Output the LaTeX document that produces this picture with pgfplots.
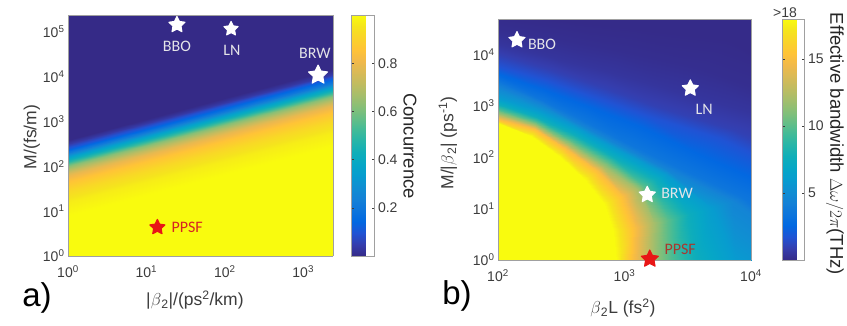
\documentclass[border=0pt]{standalone}
\usepackage{fontspec}
\setmainfont{Liberation Sans}
\newfontfamily\calibri{Carlito}
\usepackage{pgfplots}
\usepackage{pgfplotstable}
\pgfplotsset{compat=1.18}

\definecolor{lbl}{RGB}{228,228,232}
\definecolor{ppsfA}{RGB}{215,35,35}
\definecolor{ppsfB}{RGB}{170,55,45}
\definecolor{starred}{RGB}{232,22,22}
\definecolor{tickc}{RGB}{60,60,60}
\definecolor{framec}{RGB}{160,160,160}

\pgfplotsset{
  colormap={parula}{
    rgb255=(53,42,135) rgb255=(53,61,173) rgb255=(32,83,212) rgb255=(2,104,225)
    rgb255=(13,117,220) rgb255=(20,129,214) rgb255=(16,142,210) rgb255=(7,156,207)
    rgb255=(6,167,198) rgb255=(15,174,185) rgb255=(37,181,169) rgb255=(66,187,152)
    rgb255=(101,190,134) rgb255=(135,191,119) rgb255=(165,190,107) rgb255=(192,188,96)
    rgb255=(217,186,86) rgb255=(241,185,74) rgb255=(255,195,55) rgb255=(250,211,42)
    rgb255=(245,228,29) rgb255=(249,251,14)}
}

\pgfdeclareplotmark{fstar}{%
  \pgfpathmoveto{\pgfpointpolar{90}{\pgfplotmarksize}}%
  \pgfpathlineto{\pgfpointpolar{126}{0.5\pgfplotmarksize}}%
  \pgfpathlineto{\pgfpointpolar{162}{\pgfplotmarksize}}%
  \pgfpathlineto{\pgfpointpolar{198}{0.5\pgfplotmarksize}}%
  \pgfpathlineto{\pgfpointpolar{234}{\pgfplotmarksize}}%
  \pgfpathlineto{\pgfpointpolar{270}{0.5\pgfplotmarksize}}%
  \pgfpathlineto{\pgfpointpolar{306}{\pgfplotmarksize}}%
  \pgfpathlineto{\pgfpointpolar{342}{0.5\pgfplotmarksize}}%
  \pgfpathlineto{\pgfpointpolar{18}{\pgfplotmarksize}}%
  \pgfpathlineto{\pgfpointpolar{54}{0.5\pgfplotmarksize}}%
  \pgfpathclose
  \pgfusepathqfillstroke
}

\newcommand\tickfont{\fontsize{14}{16}\selectfont}
\newcommand\labfont{\fontsize{17.5}{19}\selectfont}
\newcommand\cbfont{\fontsize{18.5}{20}\selectfont}
\newcommand\starfont{\calibri\fontsize{16}{18}\selectfont}

% Panel a: concurrence; mesh rows follow lines of equal concurrence
% a: log10|beta2| ; b: log10 M ; c: concurrence
\pgfplotstableread{
a b z c
-0.05 -2.023 0 1.00
3.45 -0.413 0 1.00
-0.05 0.877 0 1.00
3.45 2.487 0 1.00
-0.05 1.177 0 0.97
3.45 2.787 0 0.97
-0.05 1.427 0 0.92
3.45 3.037 0 0.92
-0.05 1.627 0 0.86
3.45 3.237 0 0.86
-0.05 1.777 0 0.79
3.45 3.387 0 0.79
-0.05 1.877 0 0.72
3.45 3.487 0 0.72
-0.05 1.977 0 0.62
3.45 3.587 0 0.62
-0.05 2.077 0 0.49
3.45 3.687 0 0.49
-0.05 2.177 0 0.35
3.45 3.787 0 0.35
-0.05 2.277 0 0.22
3.45 3.887 0 0.22
-0.05 2.377 0 0.12
3.45 3.987 0 0.12
-0.05 2.477 0 0.04
3.45 4.087 0 0.04
-0.05 2.577 0 0.00
3.45 4.187 0 0.00
-0.05 5.977 0 0.00
3.45 7.587 0 0.00
}\tabA

% Panel b: effective bandwidth; mesh rows are lines of equal bandwidth
% a: log10(beta2 L), b: log10(M/|beta2|), c: bandwidth (THz)
\pgfplotstableread{
a b z c
1.95 -0.1 0 18
1.95 -0.1 0 18
1.95 -0.1 0 18
1.95 -0.1 0 18
1.95 -0.1 0 18
1.95 -0.1 0 18
1.95 -0.1 0 18
1.98 2.68 0 18
2.264 2.42 0 18
2.48 2.02 0 18
2.68 1.58 0 18
2.84 1.086 0 18
2.91 0.555 0 18
2.93 -0.03 0 18
1.98 2.76 0 15
2.29 2.54 0 15
2.528 2.17 0 15
2.79 1.734 0 15
2.99 1.236 0 15
3.08 0.63 0 15
3.07 -0.03 0 15
1.98 2.86 0 12
2.296 2.63 0 12
2.55 2.26 0 12
2.83 1.833 0 12
3.10 1.372 0 12
3.23 0.719 0 12
3.22 -0.03 0 12
1.98 2.93 0 10
2.30 2.69 0 10
2.568 2.34 0 10
2.87 1.913 0 10
3.15 1.438 0 10
3.34 0.785 0 10
3.35 -0.03 0 10
1.98 3.05 0 7.5
2.312 2.79 0 7.5
2.598 2.46 0 7.5
2.91 2.03 0 7.5
3.25 1.57 0 7.5
3.51 0.898 0 7.5
3.57 -0.03 0 7.5
1.98 3.17 0 6
2.324 2.89 0 6
2.624 2.57 0 6
2.95 2.134 0 6
3.32 1.683 0 6
3.69 1.02 0 6
3.87 -0.03 0 6
1.98 3.38 0 4.5
2.338 3.03 0 4.5
2.642 2.65 0 4.5
2.97 2.209 0 4.5
3.34 1.744 0 4.5
3.86 1.147 0 4.5
4.52 -0.03 0 4.5
1.98 3.50 0 3.5
2.346 3.12 0 3.5
2.66 2.74 0 3.5
3.0 2.298 0 3.5
3.40 1.833 0 3.5
3.932 1.217 0 3.5
4.8 -0.03 0 3.5
1.98 3.65 0 2.5
2.37 3.33 0 2.5
2.726 3.0 0 2.5
3.12 2.632 0 2.5
3.562 2.12 0 2.5
4.23 1.405 0 2.5
5.0 -0.03 0 2.5
1.98 3.80 0 1.7
2.39 3.50 0 1.7
2.768 3.18 0 1.7
3.196 2.811 0 1.7
3.752 2.378 0 1.7
4.478 1.56 0 1.7
5.2 -0.03 0 1.7
1.98 4.0 0 1.0
2.414 3.70 0 1.0
2.814 3.37 0 1.0
3.264 2.97 0 1.0
3.864 2.529 0 1.0
4.73 1.72 0 1.0
5.6 -0.03 0 1.0
1.98 4.22 0 0.5
2.442 3.94 0 0.5
2.884 3.65 0 0.5
3.396 3.281 0 0.5
4.08 2.82 0 0.5
4.994 1.885 0 0.5
6.0 -0.03 0 0.5
1.98 4.50 0 0.2
2.484 4.28 0 0.2
2.984 4.04 0 0.2
3.578 3.708 0 0.2
4.292 3.107 0 0.2
5.132 1.974 0 0.2
6.4 -0.03 0 0.2
1.98 4.85 0 0.05
2.53 4.66 0 0.05
3.102 4.50 0 0.05
3.822 4.282 0 0.05
4.5 3.393 0 0.05
5.288 2.07 0 0.05
6.8 -0.03 0 0.05
1.98 11.75 0 0
3.294 11.35 0 0
4.5 10.18 0 0
5.536 8.31 0 0
6.33 5.875 0 0
6.83 3.04 0 0
7.0 -0.03 0 0
}\tabB

\pgfplotsset{
  heat/.style={
    scale only axis, view={0}{90}, ztick=\empty,
    colormap name=parula, colorbar, axis on top,
    axis line style={framec, line width=0.6pt},
    major tick length=0pt,
    tick label style={font=\tickfont, text=tickc},
    xticklabel style={yshift=-6pt},
    label style={font=\labfont, text=tickc},
  },
  cbar/.style={
    at={(parent axis.north east)}, anchor=north west,
    axis line style={framec, line width=0.6pt},
    major tick length=2.5pt, tick style={tickc, line width=0.5pt},
    tick align=inside,
    yticklabel style={font=\tickfont, text=tickc},
  },
}

\begin{document}
\begin{tikzpicture}[x=1pt,y=1pt]
\useasboundingbox (0,0) rectangle (847,325);

% ---------------- panel a ----------------
\begin{axis}[heat,
  at={(68pt,69pt)}, anchor=south west, width=265pt, height=241pt,
  xmin=0, xmax=3.38, ymin=0, ymax=5.38,
  xtick={0,1,2,3},
  xticklabels={10\textsuperscript{0},10\textsuperscript{1},10\textsuperscript{2},10\textsuperscript{3}},
  ytick={0,1,2,3,4,5},
  yticklabels={10\textsuperscript{0},10\textsuperscript{1},10\textsuperscript{2},10\textsuperscript{3},10\textsuperscript{4},10\textsuperscript{5}},
  point meta min=0, point meta max=1,
  xlabel={|$\beta$\textsubscript{2}|/(ps\textsuperscript{2}/km)},
  ylabel={M/(fs/m)},
  xlabel style={at={(axis description cs:0.479,-0.183)}, anchor=center},
  ylabel style={at={(axis description cs:-0.136,0.494)}, anchor=center},
  colorbar style={cbar, xshift=10pt, width=23pt,
    ytick={0.2,0.4,0.6,0.8}, yticklabels={0.2,0.4,0.6,0.8}},
]
\addplot3[surf, shader=interp, mesh/cols=2, point meta=explicit]
  table[x=a, y=b, z=z, meta=c] {\tabA};
\addplot3[only marks, mark=fstar, mark size=8.5pt,
  mark options={fill=white, draw=white, line join=round, line width=1pt}]
  coordinates {(1.39,5.16,0)};
\addplot3[only marks, mark=fstar, mark size=7.5pt,
  mark options={fill=white, draw=white, line join=round, line width=1pt}]
  coordinates {(2.08,5.07,0)};
\addplot3[only marks, mark=fstar, mark size=10pt,
  mark options={fill=white, draw=white, line join=round, line width=1pt}]
  coordinates {(3.19,4.04,0)};
\addplot3[only marks, mark=fstar, mark size=8pt,
  mark options={fill=starred, draw=starred, line join=round, line width=1pt}]
  coordinates {(1.14,0.64,0)};
\node[font=\starfont, text=lbl] at (axis cs:1.39,4.69,0) {BBO};
\node[font=\starfont, text=lbl] at (axis cs:2.09,4.60,0) {LN};
\node[font=\starfont, text=lbl] at (axis cs:3.15,4.53,0) {BRW};
\node[font=\starfont, text=ppsfA] at (axis cs:1.52,0.64,0) {PPSF};
\end{axis}

% ---------------- panel b ----------------
\begin{axis}[heat,
  at={(498pt,65pt)}, anchor=south west, width=253pt, height=241pt,
  xmin=2, xmax=4, ymin=0, ymax=4.69,
  xtick={2,3,4},
  xticklabels={10\textsuperscript{2},10\textsuperscript{3},10\textsuperscript{4}},
  ytick={0,1,2,3,4},
  yticklabels={10\textsuperscript{0},10\textsuperscript{1},10\textsuperscript{2},10\textsuperscript{3},10\textsuperscript{4}},
  point meta min=0, point meta max=18,
  xlabel={$\beta$\textsubscript{2}L (fs\textsuperscript{2})},
  ylabel={M/|$\beta$\textsubscript{2}| (ps\textsuperscript{-1})},
  xlabel style={at={(axis description cs:0.494,-0.199)}, anchor=center},
  ylabel style={at={(axis description cs:-0.198,0.485)}, anchor=center},
  colorbar style={cbar, xshift=23pt, width=22pt,
    ytick={5,10,15}, yticklabels={5,10,15}},
]
\addplot3[surf, shader=interp, mesh/cols=7, point meta=explicit]
  table[x=a, y=b, z=z, meta=c] {\tabB};
\addplot3[only marks, mark=fstar, mark size=8.5pt,
  mark options={fill=white, draw=white, line join=round, line width=1pt}]
  coordinates {(2.15,4.28,0) (3.52,3.34,0) (3.18,1.27,0)};
\addplot3[only marks, mark=fstar, mark size=9pt,
  mark options={fill=starred, draw=starred, line join=round, line width=1pt}]
  coordinates {(3.20,0.02,0)};
\node[font=\starfont, text=lbl] at (axis cs:2.348,4.20,0) {BBO};
\node[font=\starfont, text=lbl] at (axis cs:3.63,2.93,0) {LN};
\node[font=\starfont, text=lbl] at (axis cs:3.415,1.29,0) {BRW};
\node[font=\starfont, text=ppsfB] at (axis cs:3.44,0.21,0) {PPSF};
\end{axis}

\node[font=\cbfont, text=black!85, rotate=-90] at (410,179) {Concurrence};
\node[font=\cbfont, text=black!85, rotate=-90] at (835,181) {Effective bandwidth $\Delta\omega/2\pi$(THz)};
\node[font=\fontsize{33}{35}\selectfont] at (37,27) {a)};
\node[font=\fontsize{33}{35}\selectfont] at (457,29) {b)};
\node[font=\tickfont, text=tickc] at (785,312) {>18};
\end{tikzpicture}
\end{document}
